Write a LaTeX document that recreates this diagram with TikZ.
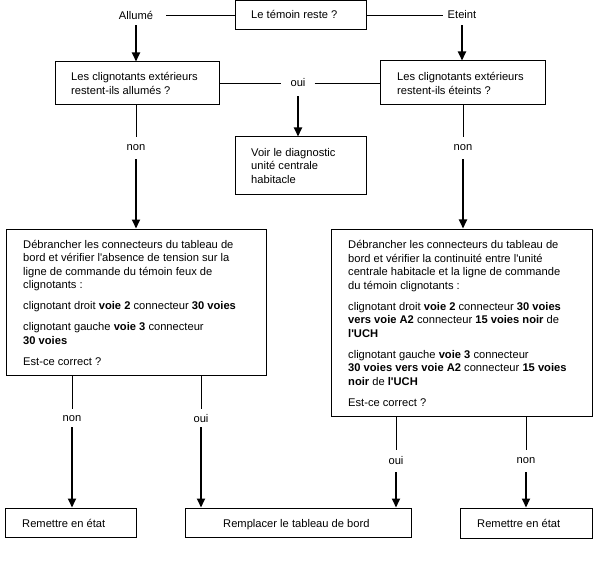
\documentclass[tikz,border=0pt]{standalone}
\usepackage{fontspec}
\newfontfamily\arialf{Liberation Sans}
\usetikzlibrary{arrows.meta}
\begin{document}
\begin{tikzpicture}[x=1bp,y=-1bp,
  font=\arialf\fontsize{11.2}{13.6}\selectfont,
  box/.style={draw, line width=1bp, rectangle, inner sep=0pt},
  txt/.style={align=left, anchor=west, inner sep=0pt},
  lab/.style={inner sep=0pt, minimum height=22bp},
  ln/.style={line width=0.9bp},
  arr/.style={line width=1.8bp, -{Triangle[width=8bp,length=9bp]}}]
\useasboundingbox (0,0) rectangle (597,563);
\fill[white] (0,0) rectangle (597,563);
% boxes
\node[box, minimum width=131bp, minimum height=28.5bp] (T) at (300.5,15) {};
\node[txt] (Tt) at (251,14.5) {Le témoin reste ?};
\node[box, minimum width=164bp, minimum height=43bp] (L1) at (137,83.5) {};
\node[txt] (L1t) at (71,83.5) {Les clignotants extérieurs\\restent-ils allumés ?};
\node[box, minimum width=165bp, minimum height=44bp] (R1) at (462.5,83) {};
\node[txt] (R1t) at (397,83.5) {Les clignotants extérieurs\\restent-ils éteints ?};
\node[box, minimum width=131bp, minimum height=57bp] (V) at (300.5,165.5) {};
\node[txt] (Vt) at (251,166) {Voir le diagnostic\\unité centrale\\habitacle};
\node[box, minimum width=259bp, minimum height=146bp] (L2) at (136.5,302) {};
\node[txt] (L2t) at (23,302.5) {Débrancher les connecteurs du tableau de\\bord et vérifier l'absence de tension sur la\\ligne de commande du témoin feux de\\clignotants :\\[7.4bp]clignotant droit \textbf{voie 2} connecteur \textbf{30 voies}\\[7.4bp]clignotant gauche \textbf{voie 3} connecteur\\\textbf{30 voies}\\[7.4bp]Est-ce correct ?};
\node[box, minimum width=261bp, minimum height=187bp] (R2) at (461.5,322.5) {};
\node[txt] (R2t) at (348,323.5) {Débrancher les connecteurs du tableau de\\bord et vérifier la continuité entre l'unité\\centrale habitacle et la ligne de commande\\du témoin clignotants :\\[7.4bp]clignotant droit \textbf{voie 2} connecteur \textbf{30 voies}\\\textbf{vers voie A2} connecteur \textbf{15 voies noir} de\\\textbf{l'UCH}\\[7.4bp]clignotant gauche \textbf{voie 3} connecteur\\\textbf{30 voies vers voie A2} connecteur \textbf{15 voies}\\\textbf{noir} de \textbf{l'UCH}\\[7.4bp]Est-ce correct ?};
\node[box, minimum width=130bp, minimum height=29bp] (B1) at (71,522.5) {};
\node[txt] (B1t) at (22,523) {Remettre en état};
\node[box, minimum width=226bp, minimum height=29bp] (B2) at (298,522.5) {};
\node[txt] (B2t) at (223,524.5) {Remplacer le tableau de bord};
\node[box, minimum width=132bp, minimum height=30bp] (B3) at (526,523) {};
\node[txt] (B3t) at (477,523) {Remettre en état};
% labels
\node[lab] (al) at (136,15) {Allumé};
\node[lab] (et) at (462,15) {Eteint};
\node[lab, minimum width=33bp] (ou) at (298,83) {oui};
\node[lab] (n1) at (136,148) {non};
\node[lab] (n2) at (463,148) {non};
\node[lab] (n3) at (72,419) {non};
\node[lab] (o3) at (201,419) {oui};
\node[lab] (o4) at (396,461) {oui};
\node[lab] (n4) at (526,461) {non};
% connectors
\draw[ln] (T.west) -- ([xshift=13bp]al.east);
\draw[ln] (T.east) -- ([xshift=-5bp]et.west);
\draw[arr] ([yshift=1bp]al.south) -- (al.south |- L1.north);
\draw[arr] ([yshift=1bp]et.south) -- (et.south |- R1.north);
\draw[ln] (L1.east |- ou.west) -- (ou.west);
\draw[ln] (ou.east) -- (R1.west |- ou.east);
\draw[arr] ([yshift=-2bp]ou.south) -- (ou.south |- V.north);
\draw[ln] (n1.north |- L1.south) -- (n1.north);
\draw[arr] (n1.south) -- (n1.south |- L2.north);
\draw[ln] (n2.north |- R1.south) -- (n2.north);
\draw[arr] (n2.south) -- (n2.south |- R2.north);
\draw[ln] (n3.north |- L2.south) -- ([yshift=-1bp]n3.north);
\draw[arr] ([yshift=3bp]n3.south) -- (n3.south |- B1.north);
\draw[ln] (o3.north |- L2.south) -- ([yshift=-1bp]o3.north);
\draw[arr] ([yshift=3bp]o3.south) -- (o3.south |- B2.north);
\draw[ln] (o4.north |- R2.south) -- (o4.north);
\draw[arr] (o4.south) -- (o4.south |- B2.north);
\draw[ln] (n4.north |- R2.south) -- (n4.north);
\draw[arr] (n4.south) -- (n4.south |- B3.north);
\end{tikzpicture}
\end{document}
